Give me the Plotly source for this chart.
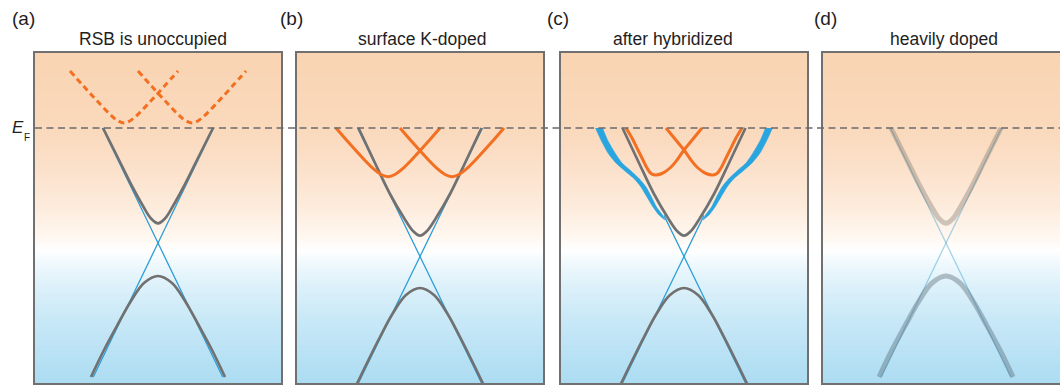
import numpy as np
import plotly.graph_objects as go

W, H = 1060, 385

# ---------------- data (k in arb. units, E relative to E_F) ----------------
panel_labels = ["(a)", "(b)", "(c)", "(d)"]
panel_titles = ["RSB is unoccupied", "surface K-doped", "after hybridized", "heavily doped"]

# bulk bands, panels (a) and (d)
cb_k_ad = [-0.55, -0.40, -0.25, -0.15, -0.07, 0.0, 0.07, 0.15, 0.25, 0.40, 0.55]
cb_E_ad = [0.0, -0.30, -0.60, -0.78, -0.905, -0.953, -0.905, -0.78, -0.60, -0.30, 0.0]
vb_k_ad = [-0.67, -0.54, -0.40, -0.27, -0.14, 0.0, 0.14, 0.27, 0.40, 0.54, 0.67]
vb_E_ad = [-2.49, -2.22, -1.96, -1.73, -1.55, -1.48, -1.55, -1.73, -1.96, -2.22, -2.49]
dirac1_k_ad = [-0.647, 0.0, 0.555]
dirac2_k_ad = [0.647, 0.0, -0.555]
dirac_E_ad = [-2.49, -1.15, 0.0]

# bulk bands, panels (b) and (c)
cb_k_bc = [-0.615, -0.45, -0.30, -0.16, -0.07, 0.0, 0.07, 0.16, 0.30, 0.45, 0.615]
cb_E_bc = [0.0, -0.35, -0.66, -0.90, -1.03, -1.077, -1.03, -0.90, -0.66, -0.35, 0.0]
vb_k_bc = [-0.66, -0.53, -0.40, -0.27, -0.14, 0.0, 0.14, 0.27, 0.40, 0.53, 0.66]
vb_E_bc = [-2.62, -2.35, -2.09, -1.85, -1.67, -1.60, -1.67, -1.85, -2.09, -2.35, -2.62]
dirac1_k_b = [-0.64, 0.0, 0.625]
dirac2_k_b = [0.64, 0.0, -0.625]
dirac_E_b = [-2.60, -1.285, 0.0]
dirac1_k_c = [-0.64, 0.0, 0.20]
dirac2_k_c = [0.64, 0.0, -0.20]
dirac_E_c = [-2.60, -1.285, -0.874]

# surface (RSB) parabolas
rsb_centers_a = [-0.34, 0.34]
rsb_dk_a = [-0.54, -0.40, -0.27, -0.15, -0.07, 0.0, 0.07, 0.15, 0.27, 0.40, 0.54]
rsb_E_a = [0.57, 0.414, 0.272, 0.147, 0.078, 0.05, 0.078, 0.147, 0.272, 0.414, 0.57]
rsb_centers_b = [-0.32, 0.32]
rsb_dk_b = [-0.52, -0.38, -0.26, -0.15, -0.07, 0.0, 0.07, 0.15, 0.26, 0.38, 0.52]
rsb_E_b = [0.0, -0.161, -0.293, -0.404, -0.465, -0.487, -0.465, -0.404, -0.293, -0.161, 0.0]
# panel (c): left RSB after hybridization (right one is its mirror image)
rsb_k_c = [-0.58, -0.52, -0.46, -0.41, -0.37, -0.33, -0.29, -0.22, -0.14, -0.07, 0.0, 0.09, 0.18]
rsb_E_c = [0.0, -0.10, -0.22, -0.32, -0.40, -0.455, -0.47, -0.455, -0.40, -0.32, -0.22, -0.11, 0.0]

# panel (c): hybridized surface band (left branch outline; right is mirror)
hyb_outer_k = [-0.885, -0.83, -0.76, -0.68, -0.59, -0.495, -0.43, -0.37, -0.31, -0.25, -0.19]
hyb_outer_E = [0.0, -0.12, -0.25, -0.35, -0.43, -0.51, -0.59, -0.69, -0.79, -0.87, -0.92]
hyb_inner_k = [-0.19, -0.215, -0.275, -0.325, -0.38, -0.445, -0.53, -0.62, -0.69, -0.765, -0.815]
hyb_inner_E = [-0.92, -0.87, -0.79, -0.69, -0.59, -0.51, -0.43, -0.35, -0.25, -0.12, 0.0]

# background gradient (energy -> colour)
bg_stop_E = [-2.55, -1.92, -1.57, -1.34, -1.22, -1.10, -0.77, -0.32, 0.0, 0.75]
bg_stop_col = ["#acdcf2", "#c8e8f7", "#ddf1fa", "#f0f9fd", "#ffffff", "#fff8f1",
               "#fdebdb", "#fbdfc8", "#fad9bc", "#f9d4b2"]

# ---------------- styling ----------------
GRAY = "#717171"
BLUE = "#2c9fd8"
BAND_BLUE = "#29a5df"
ORANGE = "#f36f21"
TEXT = "#1e1e1e"
FONT = "Liberation Sans, Arial, sans-serif"

E_MIN, E_MAX = -2.55, 0.75
y_dom = [1 - 383 / H, 1 - 53 / H]
x_doms = [[35 / W, 281 / W], [297 / W, 543 / W], [561 / W, 807 / W], [823 / W, 1.0]]
x_rngs = [[-1.23, 1.23], [-1.23, 1.23], [-1.23, 1.23], [-1.23, 1.14]]

fig = go.Figure()

def ax(i):
    return ("x" if i == 0 else f"x{i+1}"), ("y" if i == 0 else f"y{i+1}")

def line(i, k, E, color, width, dash="solid"):
    xa, ya = ax(i)
    fig.add_trace(go.Scatter(x=k, y=E, mode="lines", xaxis=xa, yaxis=ya,
                             line=dict(color=color, width=width, dash=dash, shape="spline", smoothing=1.0),
                             hoverinfo="skip", showlegend=False))

# background
lo, hi = E_MIN, E_MAX
cscale = [[(e - lo) / (hi - lo), c] for e, c in zip(bg_stop_E, bg_stop_col)]
bg_y = np.linspace(E_MIN - 0.05, E_MAX + 0.05, 200)
for i in range(4):
    xa, ya = ax(i)
    fig.add_trace(go.Heatmap(x=[-2, 2], y=bg_y, z=[[v, v] for v in bg_y], xaxis=xa, yaxis=ya,
                             colorscale=cscale, zmin=lo, zmax=hi, showscale=False,
                             hoverinfo="skip", zsmooth="best"))

# ---- panel (a)
line(0, dirac1_k_ad, dirac_E_ad, BLUE, 1.3)
line(0, dirac2_k_ad, dirac_E_ad, BLUE, 1.3)
line(0, cb_k_ad, cb_E_ad, GRAY, 2.7)
line(0, vb_k_ad, vb_E_ad, GRAY, 2.7)
for c in rsb_centers_a:
    line(0, [c + d for d in rsb_dk_a], rsb_E_a, ORANGE, 3, dash="6px,4px")

# ---- panel (b)
line(1, dirac1_k_b, dirac_E_b, BLUE, 1.3)
line(1, dirac2_k_b, dirac_E_b, BLUE, 1.3)
line(1, cb_k_bc, cb_E_bc, GRAY, 2.7)
line(1, vb_k_bc, vb_E_bc, GRAY, 2.7)
for c in rsb_centers_b:
    line(1, [c + d for d in rsb_dk_b], rsb_E_b, ORANGE, 3)

# ---- panel (c)
line(2, dirac1_k_c, dirac_E_c, BLUE, 1.3)
line(2, dirac2_k_c, dirac_E_c, BLUE, 1.3)
for sgn in (1, -1):
    xa, ya = ax(2)
    fig.add_trace(go.Scatter(x=[sgn * k for k in hyb_outer_k + hyb_inner_k],
                             y=hyb_outer_E + hyb_inner_E, mode="lines", fill="toself",
                             fillcolor=BAND_BLUE, xaxis=xa, yaxis=ya,
                             line=dict(color=BAND_BLUE, width=0.6, shape="spline", smoothing=0.6),
                             hoverinfo="skip", showlegend=False))
line(2, cb_k_bc, cb_E_bc, GRAY, 2.7)
line(2, vb_k_bc, vb_E_bc, GRAY, 2.7)
line(2, rsb_k_c, rsb_E_c, ORANGE, 3)
line(2, [-k for k in rsb_k_c], rsb_E_c, ORANGE, 3)

# ---- panel (d)
line(3, dirac1_k_ad, dirac_E_ad, "rgba(60,160,210,0.45)", 1.3)
line(3, dirac2_k_ad, dirac_E_ad, "rgba(60,160,210,0.45)", 1.3)
line(3, cb_k_ad, cb_E_ad, "rgba(110,100,92,0.33)", 5)
line(3, vb_k_ad, vb_E_ad, "rgba(80,95,105,0.38)", 5)

# axes
layout = dict(width=W, height=H, margin=dict(l=0, r=0, t=0, b=0),
              paper_bgcolor="white", plot_bgcolor="white", showlegend=False)
for i in range(4):
    xk = "xaxis" if i == 0 else f"xaxis{i+1}"
    yk = "yaxis" if i == 0 else f"yaxis{i+1}"
    xa, ya = ax(i)
    layout[xk] = dict(domain=x_doms[i], range=x_rngs[i], anchor=ya, showgrid=False, zeroline=False,
                      showticklabels=False, ticks="", showline=True, linecolor="#707070",
                      linewidth=1.5, mirror=True, fixedrange=True)
    layout[yk] = dict(domain=y_dom, range=[E_MIN, E_MAX], anchor=xa, showgrid=False, zeroline=False,
                      showticklabels=False, ticks="", showline=True, linecolor="#707070",
                      linewidth=1.5, mirror=(i < 3), fixedrange=True)
fig.update_layout(**layout)

# Fermi level
fig.add_shape(type="line", xref="paper", yref="y", x0=35 / W, x1=1.0, y0=0, y1=0,
              line=dict(color="#6a6a6a", width=1.5, dash="7px,4.5px"), layer="above")

# text
label_x = [10, 278, 545, 812]
title_x = [153, 422, 673, 944]
for i in range(4):
    fig.add_annotation(xref="paper", yref="paper", x=label_x[i] / W, y=1 - 18 / H,
                       text=panel_labels[i], showarrow=False, xanchor="left", yanchor="middle",
                       font=dict(family=FONT, size=19, color=TEXT))
    fig.add_annotation(xref="paper", yref="paper", x=title_x[i] / W, y=1 - 39 / H,
                       text=panel_titles[i], showarrow=False, xanchor="center", yanchor="middle",
                       font=dict(family=FONT, size=17.5, color=TEXT))
fig.add_annotation(xref="paper", yref="paper", x=10 / W, y=1 - 127 / H,
                   text="<i>E</i>", showarrow=False, xanchor="left", yanchor="middle",
                   font=dict(family=FONT, size=17, color=TEXT))
fig.add_annotation(xref="paper", yref="paper", x=22 / W, y=1 - 137 / H,
                   text="F", showarrow=False, xanchor="left", yanchor="middle",
                   font=dict(family=FONT, size=10, color=TEXT))

fig.write_html("out.html")
